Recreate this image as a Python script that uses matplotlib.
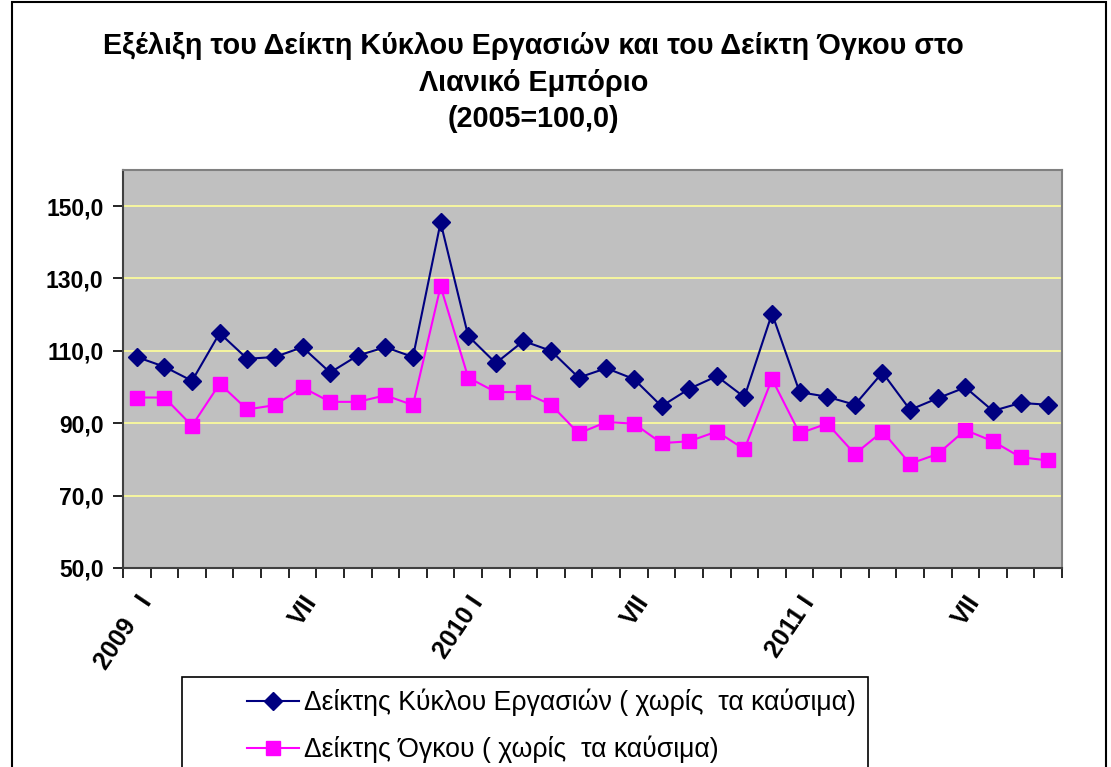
import matplotlib
matplotlib.use("Agg")
import matplotlib.pyplot as plt
from matplotlib.patches import Rectangle
import numpy as np

plt.rcParams['font.family'] = ['Liberation Sans', 'DejaVu Sans']

# monthly values, 2009 I - 2011 X
turnover = [108.3, 105.6, 101.7, 114.9, 107.8, 108.3, 111.0, 104.0, 108.7, 111.0, 108.3, 145.5,
            114.1, 106.6, 112.7, 110.0, 102.6, 105.2, 102.2, 94.7, 99.5, 103.0, 97.2, 120.3,
            98.6, 97.3, 95.1, 104.0, 93.7, 96.9, 99.9, 93.4, 95.6, 95.1]
volume = [97.1, 97.1, 89.3, 100.9, 93.8, 95.0, 99.9, 95.9, 95.9, 97.7, 95.0, 127.8,
          102.6, 98.6, 98.6, 95.1, 87.2, 90.3, 89.9, 84.5, 85.0, 87.7, 82.8, 102.2,
          87.2, 89.9, 81.5, 87.7, 78.8, 81.5, 88.1, 85.0, 80.6, 79.7]
tick_pos = [0, 6, 12, 18, 24, 30]
tick_labels = ["2009   I", "VII", "2010 I", "VII", "2011 I", "VII"]
y_ticks = [50, 70, 90, 110, 130, 150]

fig = plt.figure(figsize=(11.11, 7.67), dpi=100)
ax = fig.add_axes([0.1107, 0.2595, 0.8452, 0.519])
ax.set_facecolor('#C0C0C0')

x = np.arange(len(turnover))
ax.plot(x, turnover, color='#000080', lw=1.5, marker='D', ms=9, mfc='#000080', mec='#000080',
        label="Δείκτης Κύκλου Εργασιών ( χωρίς  τα καύσιμα)", zorder=4)
ax.plot(x, volume, color='#FF00FF', lw=1.5, marker='s', ms=10, mfc='#FF00FF', mec='#FF00FF',
        label="Δείκτης Όγκου ( χωρίς  τα καύσιμα)", zorder=3)

ax.set_xlim(-0.5, len(turnover) - 0.5)
ax.set_ylim(50, 160)
ax.set_yticks(y_ticks)
ax.set_yticklabels([("%.1f" % v).replace('.', ',') for v in y_ticks],
                   fontsize=16.5, fontweight='bold')
for v in y_ticks[1:]:
    ax.axhline(v, color='#FFFF99', lw=1.2, zorder=1)

ax.set_xticks(tick_pos)
ax.set_xticklabels(tick_labels, rotation=56, ha='right', va='top', rotation_mode='anchor',
                   fontsize=18, fontweight='bold')
ax.set_xticks(np.arange(-0.5, len(turnover)), minor=True)
ax.tick_params(axis='x', which='major', length=0, pad=17)
ax.tick_params(axis='x', which='minor', length=7, width=1.2, direction='out', color='black')
ax.tick_params(axis='y', length=7, width=1.2, direction='out', pad=7)

for s in ['left', 'bottom']:
    ax.spines[s].set_color('#404040')
    ax.spines[s].set_linewidth(1.5)
for s in ['top', 'right']:
    ax.spines[s].set_color('#808080')
    ax.spines[s].set_linewidth(1.5)

title_lines = ["Εξέλιξη του Δείκτη Κύκλου Εργασιών και του Δείκτη Όγκου στο",
               "Λιανικό Εμπόριο", "(2005=100,0)"]
for line, ypx in zip(title_lines, [46, 83, 119]):
    fig.text(0.48, 1 - ypx / 767, line, ha='center', va='center', fontsize=20.7,
             fontweight='bold')

# legend: frame drawn separately so the wide left margin can match
fig.patches.append(Rectangle((182 / 1111, -0.05), (868 - 182) / 1111, 1 - 677 / 767 + 0.05,
                             transform=fig.transFigure, fill=False, ec='black', lw=1.2))
leg = fig.legend(loc='upper left', bbox_to_anchor=(247 / 1111, 1 - 689 / 767),
                 fontsize=19.2, frameon=False, handlelength=1.95, handletextpad=0.2,
                 borderpad=0, labelspacing=0.72, borderaxespad=0)

fig.patches.append(Rectangle((12 / 1111, -0.1), (1106 - 12) / 1111, 1.1 - 2 / 767,
                             transform=fig.transFigure, fill=False, ec='black', lw=1.5))

fig.savefig('out.png', dpi=100)
